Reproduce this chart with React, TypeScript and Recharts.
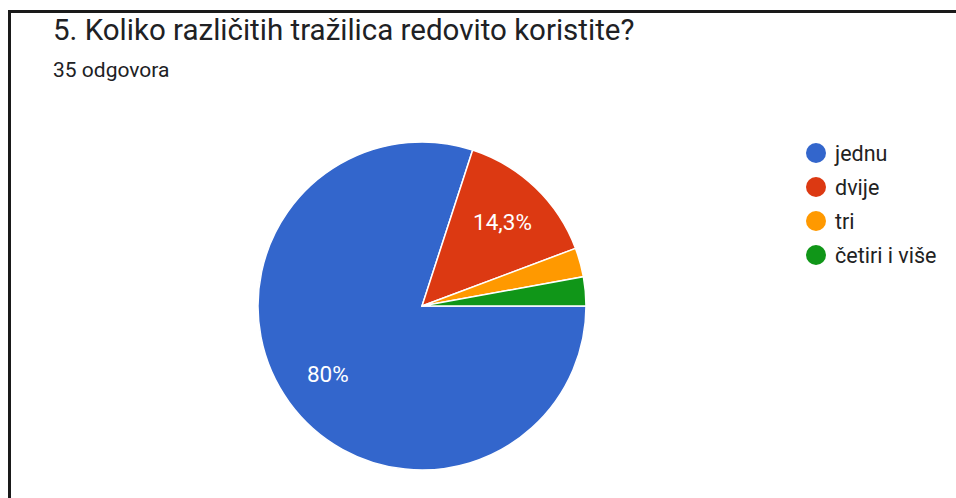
import React from 'react';
import { PieChart, Pie, Cell, Legend } from 'recharts';

const categories = ['jednu', 'dvije', 'tri', 'četiri i više'];
const counts = [28, 5, 1, 1];
const colors = ['#3366cc', '#dc3912', '#ff9900', '#109618'];

const data = categories.map((name, i) => ({ name, value: counts[i] }));
const total = counts.reduce((a, b) => a + b, 0);

const RADIAN = Math.PI / 180;

const renderLabel = ({ cx, cy, midAngle, outerRadius, value }: any) => {
  const pct = (value / total) * 100;
  if (pct < 5) return null;
  const r = outerRadius * 0.71;
  const x = cx + r * Math.cos(-midAngle * RADIAN);
  const y = cy + r * Math.sin(-midAngle * RADIAN);
  const text = (Math.round(pct * 10) / 10).toString().replace('.', ',') + '%';
  return (
    <text x={x} y={y} fill="#fff" textAnchor="middle" dominantBaseline="central"
      fontSize={22.5} fontFamily="Roboto, Arial, sans-serif">
      {text}
    </text>
  );
};

const LegendContent = () => (
  <div>
    {categories.map((name, i) => (
      <div key={name} style={{ display: 'flex', alignItems: 'center', height: 34 }}>
        <span style={{ width: 20, height: 20, borderRadius: '50%', background: colors[i], display: 'inline-block', marginRight: 9 }} />
        <span style={{ fontSize: 21.5, color: '#222', fontFamily: 'Roboto, Arial, sans-serif' }}>{name}</span>
      </div>
    ))}
  </div>
);

export default function App() {
  return (
    <div style={{ position: 'absolute', left: 0, top: 0, width: 956, height: 498, background: '#fff', overflow: 'hidden' }}>
      <div style={{ position: 'absolute', left: 8, top: 10, width: 960, height: 500, borderLeft: '3px solid #1a1a1a', borderTop: '3px solid #1a1a1a' }} />
      <div style={{ position: 'absolute', left: 53, top: 13, fontSize: 29.5, color: '#202124', fontFamily: 'Roboto, Arial, sans-serif', whiteSpace: 'nowrap' }}>
        5. Koliko različitih tražilica redovito koristite?
      </div>
      <div style={{ position: 'absolute', left: 53, top: 58, fontSize: 21, color: '#202124', fontFamily: 'Roboto, Arial, sans-serif' }}>
        35 odgovora
      </div>
      <PieChart width={956} height={498} margin={{ top: 0, right: 0, bottom: 0, left: 0 }} style={{ position: 'absolute', left: 0, top: 0 }}>
        <Pie
          data={data}
          dataKey="value"
          nameKey="name"
          cx={422}
          cy={306}
          outerRadius={164}
          startAngle={0}
          endAngle={-360}
          stroke="#fff"
          strokeWidth={1.5}
          label={renderLabel}
          labelLine={false}
          isAnimationActive={false}
        >
          {data.map((d, i) => (
            <Cell key={d.name} fill={colors[i]} />
          ))}
        </Pie>
        <Legend content={<LegendContent />} wrapperStyle={{ position: 'absolute', left: 806, top: 136, width: 150 }} />
      </PieChart>
    </div>
  );
}
